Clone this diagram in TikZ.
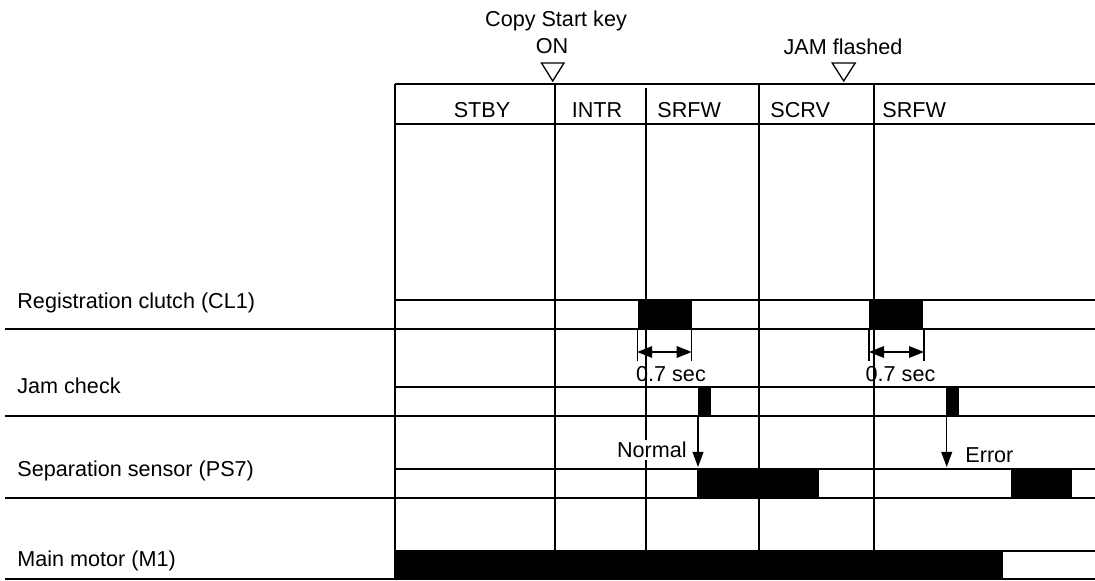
\documentclass[tikz,border=0pt]{standalone}
\usepackage{fontspec}
\setmainfont{Liberation Sans}
\usetikzlibrary{arrows.meta}
\tikzset{
  sigline/.style={line width=1.3pt},
  colline/.style={line width=0.65pt},
  lbl/.style={inner sep=0pt, font=\fontsize{10.8}{12}\selectfont},
  tip/.style={-{Triangle[length=7.5pt,width=5.4pt]}, line width=0.65pt},
  dimarrow/.style={{Triangle[length=7.5pt,width=5.8pt]}-{Triangle[length=7.5pt,width=5.8pt]}, line width=0.65pt},
}
\begin{document}
\begin{tikzpicture}[x=0.5pt,y=-0.5pt]
\useasboundingbox (0,0) rectangle (1095,581);

% events on top
\node[lbl,anchor=base] (copykey) at (556,26.7) {Copy Start key};
\node[lbl,anchor=base] (copyon) at (552,54) {ON};
\draw[colline] (541.5,63) -- (564,63) -- (552.7,81) -- cycle;
\node[lbl,anchor=base] (jamflash) at (843,55) {JAM flashed};
\draw[colline] (832.2,63) -- (855.2,63) -- (843.7,81) -- cycle;

% column lines
\foreach \cx in {555,759,874}
  \draw[colline] (\cx,84) -- (\cx,551);
\draw[colline] (646,88) -- (646,551);

% header
\draw[sigline] (395,84) -- (1095,84);
\draw[sigline] (395,124) -- (1095,124);
\node[lbl,anchor=base] (stby) at (482,117.7) {STBY};
\node[lbl,anchor=base] (intr) at (597,117.7) {INTR};
\node[lbl,anchor=base west] (srfwa) at (657,117.7) {SRFW};
\node[lbl,anchor=base west] (scrv) at (770,117.7) {SCRV};
\node[lbl,anchor=base west] (srfwb) at (882,117.7) {SRFW};

% high levels
\fill (637.7,300) rectangle (692,329);
\fill (869,300) rectangle (923.3,329);
\fill (698.3,387) rectangle (711,416);
\fill (946,387) rectangle (959.3,416);
\fill (696.7,469) rectangle (818.7,498);
\fill (1010.7,469) rectangle (1072.3,498);
\fill (396,551) rectangle (1003,579);

% rows
\foreach \ymid/\ybot in {300/329,387/416,469/498,551/579} {
  \draw[sigline] (395,\ymid) -- (1095,\ymid);
  \draw[sigline] (5,\ybot) -- (1095,\ybot);
}
\draw[sigline] (395,84) -- (395,579);

% signal names
\node[lbl,anchor=base west] (regcl) at (17,309) {Registration clutch (CL1)};
\node[lbl,anchor=base west] (jamck) at (17,394) {Jam check};
\node[lbl,anchor=base west] (sepsn) at (17,476) {Separation sensor (PS7)};
\node[lbl,anchor=base west] (motor) at (17,566) {Main motor (M1)};

% 0.7 sec
\foreach \xa/\xb/\nm in {637.2/691.7/a,869/924/b} {
  \coordinate (dl\nm) at (\xa,352);
  \coordinate (dr\nm) at (\xb,352);
  \draw[colline] (\xa,329) -- (\xa,361);
  \draw[colline] (\xb,329) -- (\xb,361);
  \draw[dimarrow] (dl\nm) -- (dr\nm);
}
\node[lbl,anchor=base] (seca) at (671,381.7) {0.7 sec};
\node[lbl,anchor=base] (secb) at (900.5,381.7) {0.7 sec};

% jam check result
\coordinate (chka) at (698,416);
\coordinate (senA) at (698,467);
\draw[tip] (chka) -- (senA);
\node[lbl,anchor=base east,fill=white,inner sep=1pt] (normal) at (689,458) {Normal};
\coordinate (chkb) at (946.7,416);
\coordinate (senB) at (946.7,467);
\draw[tip] (chkb) -- (senB);
\node[lbl,anchor=base west] (error) at (965,463) {Error};
\end{tikzpicture}
\end{document}
